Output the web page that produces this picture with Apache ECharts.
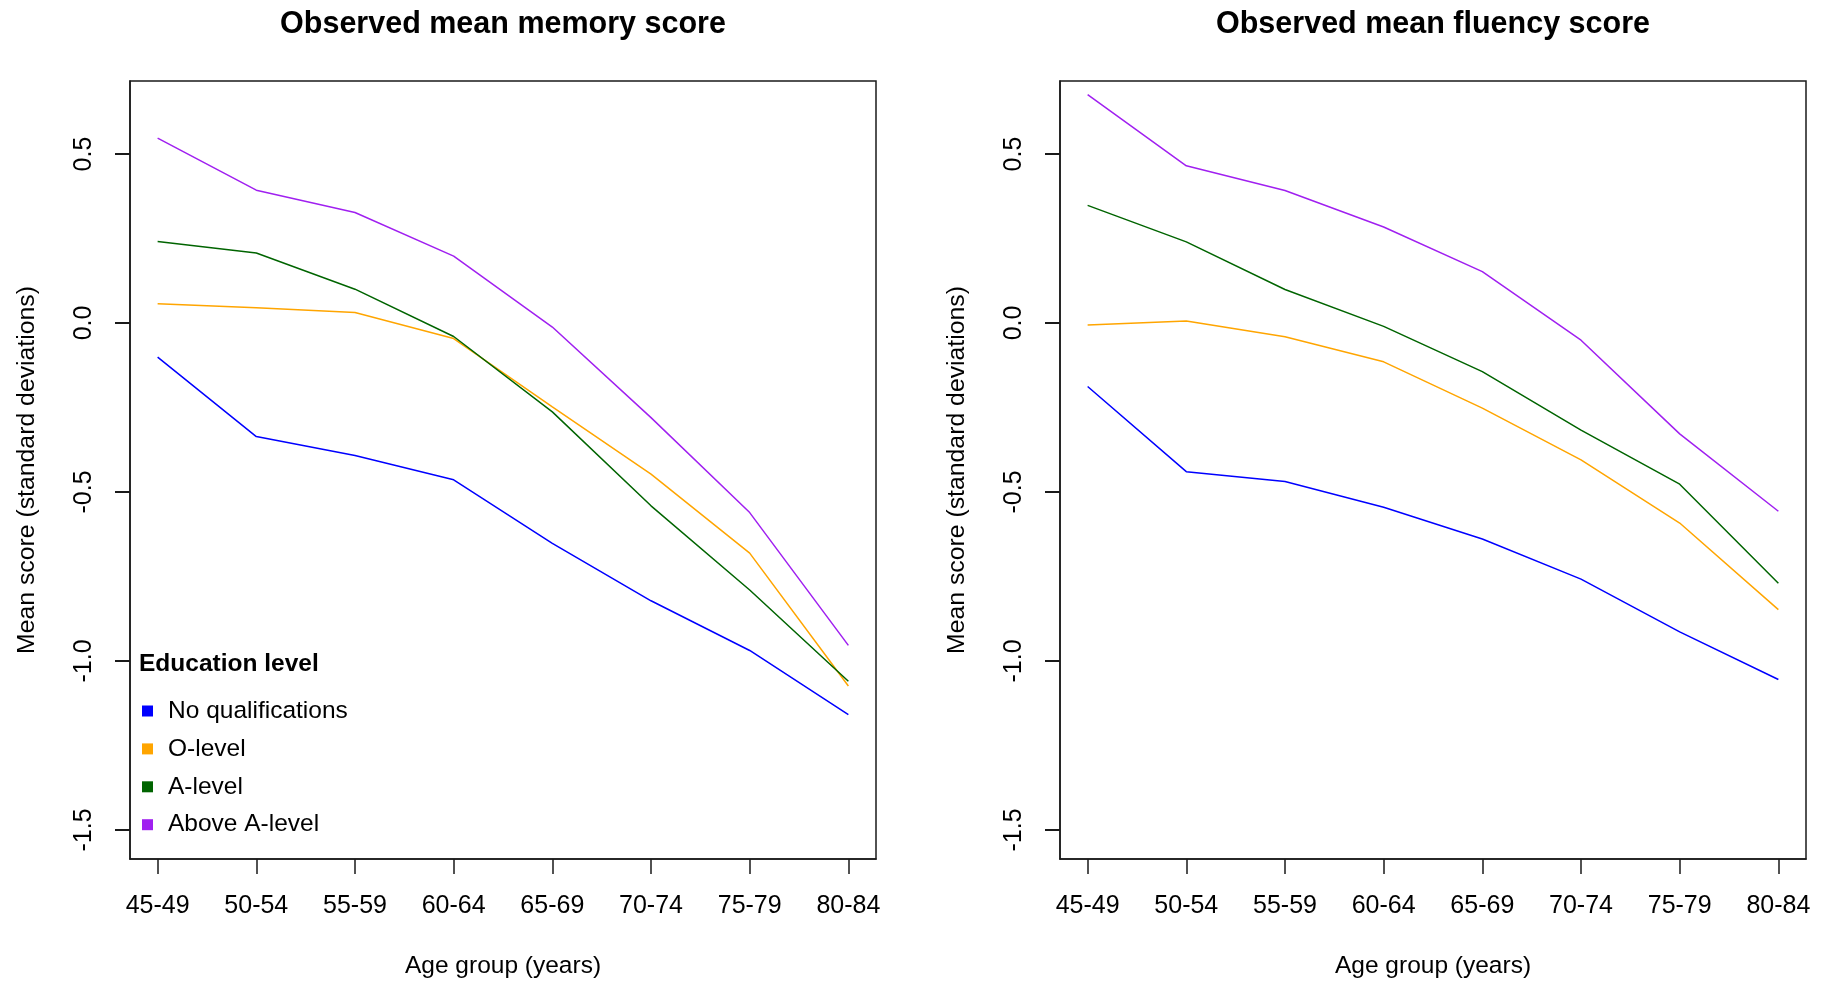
<!DOCTYPE html>
<html>
<head>
<meta charset="utf-8">
<script src="https://cdn.jsdelivr.net/npm/echarts@6.0.0/dist/echarts.min.js"></script>
<style>
html, body { margin: 0; padding: 0; background: #ffffff; }
#chart { width: 1821px; height: 982px; }
</style>
</head>
<body>
<div id="chart"></div>
<script>
// ---- Data ----
const ageGroups = ['45-49', '50-54', '55-59', '60-64', '65-69', '70-74', '75-79', '80-84'];
const educationLevels = ['No qualifications', 'O-level', 'A-level', 'Above A-level'];
const yTickValues = [-1.5, -1.0, -0.5, 0.0, 0.5];

// Observed mean memory score
const memoryNoQual  = [-0.101, -0.336, -0.392, -0.464, -0.652, -0.822, -0.969, -1.159];
const memoryOLevel  = [ 0.057,  0.045,  0.031, -0.046, -0.248, -0.447, -0.681, -1.074];
const memoryALevel  = [ 0.241,  0.207,  0.100, -0.040, -0.263, -0.541, -0.790, -1.060];
const memoryAboveA  = [ 0.547,  0.393,  0.327,  0.198, -0.012, -0.280, -0.561, -0.954];

// Observed mean fluency score
const fluencyNoQual = [-0.188, -0.440, -0.469, -0.545, -0.639, -0.758, -0.914, -1.055];
const fluencyOLevel = [-0.006,  0.006, -0.041, -0.115, -0.252, -0.405, -0.592, -0.848];
const fluencyALevel = [ 0.348,  0.240,  0.099, -0.010, -0.144, -0.317, -0.477, -0.770];
const fluencyAboveA = [ 0.676,  0.465,  0.392,  0.284,  0.152, -0.051, -0.328, -0.557];

// ---- Styling ----
const FONT = '"Liberation Sans", Arial, Helvetica, sans-serif';
const lineColors = ['#0000FF', '#FFA500', '#006400', '#A020F0'];
const xTickValues = ageGroups.map((_, i) => i + 1);
const AXIS_COLOR = '#1a1a1a';

const chart = echarts.init(document.getElementById('chart'), null, { renderer: 'canvas' });

function gridBox(left) {
  return {
    left: left, top: 81, width: 746, height: 778,
    show: true, borderColor: AXIS_COLOR, borderWidth: 1.5,
    backgroundColor: 'transparent', containLabel: false, outerBoundsMode: 'none'
  };
}

function xAxisFor(gridIndex) {
  return {
    type: 'value', gridIndex: gridIndex, min: 0.72, max: 8.28, position: 'bottom',
    axisLine: { show: true, onZero: false, lineStyle: { color: AXIS_COLOR, width: 1.5 } },
    splitLine: { show: false },
    axisTick: { show: true, customValues: xTickValues, length: 15, lineStyle: { color: AXIS_COLOR, width: 1.5 } },
    axisLabel: {
      customValues: xTickValues,
      formatter: v => ageGroups[Math.round(v) - 1],
      margin: 34.5, fontSize: 25, color: '#000', fontFamily: FONT
    },
    name: 'Age group (years)', nameLocation: 'middle', nameGap: 95,
    nameTextStyle: { fontSize: 24.5, color: '#000', fontFamily: FONT }
  };
}

function yAxisFor(gridIndex) {
  return {
    type: 'value', gridIndex: gridIndex, min: -1.586, max: 0.716, position: 'left',
    axisLine: { show: true, onZero: false, lineStyle: { color: AXIS_COLOR, width: 1.5 } },
    splitLine: { show: false },
    axisTick: { show: true, customValues: yTickValues, length: 15, lineStyle: { color: AXIS_COLOR, width: 2 } },
    axisLabel: {
      customValues: yTickValues, rotate: 90,
      formatter: v => Number(v).toFixed(1),
      margin: 33, fontSize: 25, color: '#000', fontFamily: FONT
    },
    name: 'Mean score (standard deviations)', nameLocation: 'middle', nameRotate: 90, nameGap: 90,
    nameTextStyle: { fontSize: 24.8, color: '#000', fontFamily: FONT }
  };
}

function lineSeries(name, values, color, idx) {
  return {
    type: 'line', name: name, xAxisIndex: idx, yAxisIndex: idx,
    data: values.map((v, i) => [i + 1, v]),
    showSymbol: false, symbol: 'none', silent: true,
    lineStyle: { width: 1.5, color: color },
    itemStyle: { color: color }
  };
}

const memorySets = [memoryNoQual, memoryOLevel, memoryALevel, memoryAboveA];
const fluencySets = [fluencyNoQual, fluencyOLevel, fluencyALevel, fluencyAboveA];

const series = [];
memorySets.forEach((vals, k) => series.push(lineSeries(educationLevels[k], vals, lineColors[k], 0)));
fluencySets.forEach((vals, k) => series.push(lineSeries(educationLevels[k], vals, lineColors[k], 1)));

const option = {
  animation: false,
  backgroundColor: '#ffffff',
  title: [
    { text: 'Observed mean memory score', left: 503, top: 9, textAlign: 'center', padding: 0,
      textStyle: { fontSize: 30.5, fontWeight: 'bold', color: '#000', fontFamily: FONT } },
    { text: 'Observed mean fluency score', left: 1433, top: 9, textAlign: 'center', padding: 0,
      textStyle: { fontSize: 30.5, fontWeight: 'bold', color: '#000', fontFamily: FONT } },
    { text: 'Education level', left: 139, top: 652, padding: 0,
      textStyle: { fontSize: 24.5, fontWeight: 'bold', color: '#000', fontFamily: FONT } }
  ],
  legend: {
    data: educationLevels, orient: 'vertical', left: 142, top: 698.5, padding: 0,
    icon: 'rect', itemWidth: 11, itemHeight: 11, itemGap: 12.9, selectedMode: false,
    textStyle: { fontSize: 24.5, color: '#000', fontFamily: FONT, padding: [0, 0, 0, 10] }
  },
  grid: [gridBox(130), gridBox(1060)],
  xAxis: [xAxisFor(0), xAxisFor(1)],
  yAxis: [yAxisFor(0), yAxisFor(1)],
  series: series
};

chart.setOption(option);
</script>
</body>
</html>
